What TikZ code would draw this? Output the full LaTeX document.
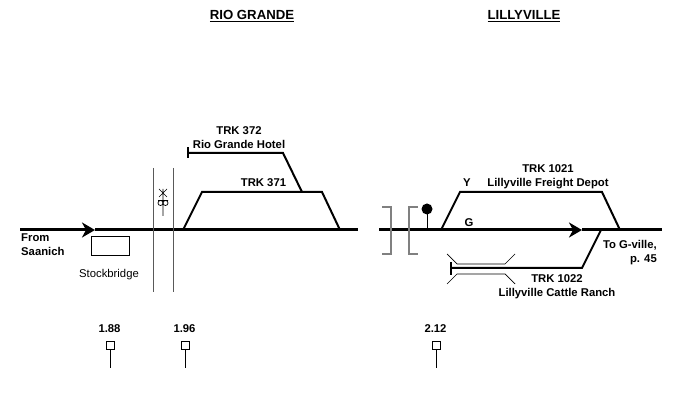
\documentclass[tikz,border=0pt]{standalone}
\usepackage{fontspec}
\setmainfont{Liberation Sans}
\usetikzlibrary{arrows.meta,positioning}

\begin{document}
\begin{tikzpicture}[x=1pt,y=-1pt,
  track/.style={line width=3pt},
  spur/.style={line width=2pt},
  road/.style={line width=1pt,draw=black!65},
  brk/.style={line width=1.4pt,draw=black!50},
  tip/.style={-{Stealth[length=13pt,width=15pt,inset=4pt]}},
  lbl/.style={font=\fontsize{11.3}{14.8}\selectfont\bfseries,inner sep=0pt,anchor=base,align=center},
  town/.style={font=\fontsize{13.2}{15}\selectfont\bfseries,inner sep=0pt,anchor=base},
  mpbox/.style={draw,line width=0.8pt,minimum size=8pt,inner sep=0pt}]
  \useasboundingbox (0,0) rectangle (678,411);

  % towns
  \node[town] (RG) at (252,19.5) {\underline{RIO GRANDE}};
  \node[town] (LV) at (524,19.5) {\underline{LILLYVILLE}};

  % main line
  \draw[track,tip] (20,230) -- (95,230);
  \draw[track] (95,230) -- (358,230);
  \draw[track,tip] (379,230) -- (582,230);
  \draw[track] (582,230) -- (662,230);
  \node[lbl,anchor=base west,align=left] (from) at (21,256) {From\\Saanich};
  \node[lbl,anchor=base east,align=right] (to) at (657,263) {To G-ville,\\p. 45};

  % Stockbridge
  \draw[line width=0.8pt] (91,236) rectangle (129,255);
  \node[lbl,font=\fontsize{11.3}{14}\selectfont] (SB) at (109,278) {Stockbridge};

  % road crossing
  \draw[road] (153,168) -- (153,292) (173,168) -- (173,292);
  \draw[line width=0.7pt] (159,189) -- (167,197) (167,189) -- (159,197) (163,189) -- (163,216)
    (158,200.5) -- (168,200.5);
  \draw[line width=0.7pt] (160.5,203) circle (2.5pt) (165.5,203) circle (2.5pt);

  % Rio Grande sidings
  \draw[spur] (183,230) -- (202,192) -- (322,192) -- (340,230);
  \draw[spur] (302,192) -- (283,153) -- (188,153);
  \draw[spur] (188,147.5) -- (188,158.5);
  \node[lbl] (T372) at (239,149) {TRK 372\\Rio Grande Hotel};
  \node[lbl] (T371) at (263.5,187) {TRK 371};

  % Lillyville
  \draw[brk] (382,207) -- (391,207) -- (391,254) -- (382,254);
  \draw[brk] (418,207) -- (409,207) -- (409,254) -- (418,254);
  \draw[line width=1pt] (427,230) -- (427,209);
  \fill (427,209) circle (5.5pt);

  \draw[spur] (441,230) -- (460,192) -- (602,192) -- (620,230);
  \draw[spur] (601,230) -- (582,268) -- (451,268);
  \draw[spur] (451,262) -- (451,275);
  \draw[line width=0.7pt] (447,254) -- (457,264) -- (505,264) -- (515,254)
    (447,284) -- (457,274) -- (505,274) -- (515,284);

  \node[lbl] (Y) at (467,187) {Y};
  \node[lbl] (G) at (469,227) {G};
  \node[lbl] (T1021) at (548,187) {TRK 1021\\Lillyville Freight Depot};
  \node[lbl] (T1022) at (557,297) {TRK 1022\\Lillyville Cattle Ranch};

  % mileposts
  \foreach \x/\m in {110/1.88,185/1.96,436/2.12} {
    \node[mpbox] (mp\x) at (\x,345) {};
    \node[lbl] (mpl\x) at (\x-0.5,333) {\m};
    \draw[line width=0.8pt] (mp\x.south) -- ++(0,19);
  }
\end{tikzpicture}
\end{document}
